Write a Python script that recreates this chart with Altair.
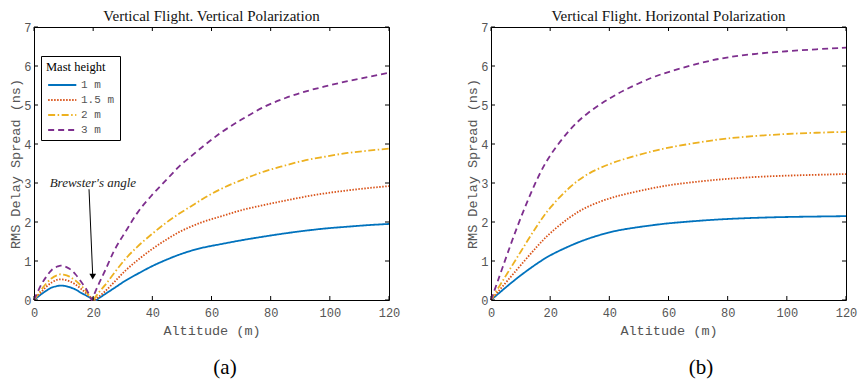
import altair as alt
import pandas as pd

SERIES = ["1 m", "1.5 m", "2 m", "3 m"]
COLORS = ["#0072BD", "#D95319", "#EDB120", "#7E2F8E"]
DASHES = [[1, 0], [1.5, 1.5], [7, 2.5, 1.5, 2.5], [6, 4]]

# (a) Vertical polarization
ALT_V = [0, 1, 2.5, 4, 6, 8, 9, 10, 12, 14, 16, 17.5, 19, 19.5, 20, 20.5, 21, 22,
         24, 27, 31, 35, 40, 45, 49, 53, 57, 63, 70, 78, 85, 91, 98, 106, 113, 120]
V_1M = [0, 0.06, 0.15, 0.23, 0.32, 0.36, 0.37, 0.365, 0.33, 0.27, 0.18, 0.12, 0.06, 0.045,
        0.03, 0.015, 0, 0.05, 0.15, 0.30, 0.50, 0.67, 0.87, 1.04, 1.16, 1.26, 1.34, 1.43,
        1.53, 1.63, 1.71, 1.77, 1.83, 1.88, 1.92, 1.95]
V_15M = [0, 0.09, 0.21, 0.33, 0.45, 0.52, 0.53, 0.525, 0.48, 0.40, 0.28, 0.18, 0.08, 0.055,
         0.03, 0, 0.03, 0.09, 0.22, 0.45, 0.76, 1.02, 1.31, 1.56, 1.74, 1.88, 2.00, 2.14,
         2.30, 2.44, 2.55, 2.64, 2.73, 2.81, 2.87, 2.92]
V_2M = [0, 0.11, 0.27, 0.41, 0.56, 0.64, 0.66, 0.65, 0.60, 0.50, 0.36, 0.24, 0.07, 0.035,
        0, 0.05, 0.10, 0.20, 0.38, 0.68, 1.06, 1.37, 1.70, 2.00, 2.21, 2.40, 2.59, 2.84,
        3.07, 3.30, 3.45, 3.57, 3.67, 3.77, 3.83, 3.88]
V_3M = [0, 0.17, 0.40, 0.58, 0.77, 0.86, 0.88, 0.87, 0.80, 0.66, 0.46, 0.30, 0.08, 0,
        0.08, 0.17, 0.26, 0.43, 0.75, 1.25, 1.76, 2.24, 2.70, 3.10, 3.42, 3.68, 3.93, 4.28,
        4.62, 4.96, 5.18, 5.33, 5.47, 5.61, 5.72, 5.83]

# (b) Horizontal polarization
ALT_H = [0, 2, 5.4, 9.9, 15.6, 19.9, 26.9, 32.5, 39.9, 46, 54.7, 60, 71.5, 80, 90, 100, 110, 120]
H_1M = [0, 0.13, 0.35, 0.63, 0.94, 1.15, 1.40, 1.57, 1.74, 1.83, 1.92, 1.97, 2.04, 2.08,
        2.11, 2.13, 2.14, 2.15]
H_15M = [0, 0.18, 0.48, 0.88, 1.38, 1.72, 2.15, 2.40, 2.61, 2.73, 2.87, 2.95, 3.05, 3.11,
         3.16, 3.19, 3.21, 3.23]
H_2M = [0, 0.25, 0.67, 1.22, 1.92, 2.38, 2.93, 3.24, 3.49, 3.64, 3.82, 3.91, 4.06, 4.15,
        4.21, 4.26, 4.29, 4.31]
H_3M = [0, 0.42, 1.16, 2.10, 3.13, 3.73, 4.41, 4.80, 5.17, 5.42, 5.72, 5.85, 6.10, 6.23,
        6.32, 6.38, 6.43, 6.47]

X_TICKS = [0, 20, 40, 60, 80, 100, 120]
Y_TICKS = [0, 1, 2, 3, 4, 5, 6, 7]

BREWSTER_TEXT = ["Brewster's angle"]
BREWSTER_TEXT_X = [19.9]
BREWSTER_TEXT_Y = [2.99]
ARROW_X = [18.6]
ARROW_Y = [2.84]
ARROW_X2 = [19.85]
ARROW_Y2 = [0.62]
ARROW_HEAD_X = [19.85]
ARROW_HEAD_Y = [0.6]

W, H = 355, 273
MONO = "Liberation Mono"
SERIF = "Liberation Serif"
GREY = "#555555"
TICK_LEN = 4

XS = alt.Scale(domain=[0, 120], nice=False, zero=False)
YS = alt.Scale(domain=[0, 7], nice=False)
X_AXIS = alt.Axis(values=X_TICKS, ticks=False, domain=False, labelPadding=7, labelFlush=False,
                  title="Altitude (m)", titlePadding=5)
Y_AXIS = alt.Axis(values=Y_TICKS, ticks=False, domain=False, labelPadding=3, labelFlush=False,
                  title="RMS Delay Spread (ns)", titlePadding=1)


def X(field):
    return alt.X(field, scale=XS, axis=X_AXIS, title="Altitude (m)")


def Y(field):
    return alt.Y(field, scale=YS, axis=Y_AXIS, title="RMS Delay Spread (ns)")


def to_long(alts, cols):
    rows = []
    for name, vals in zip(SERIES, cols):
        for a, v in zip(alts, vals):
            rows.append({"alt": a, "v": v, "series": name})
    return pd.DataFrame(rows)


def panel(df, title, lx, ly, tag, tag_x, interp, annotate=False):
    legend = alt.Legend(
        title="Mast height", orient="none", legendX=lx, legendY=ly,
        strokeColor="black", fillColor="white", padding=5,
        titleFont=SERIF, titleFontSize=12.5, titleFontWeight="normal", titleColor="black",
        titlePadding=6, labelFont=MONO, labelFontSize=11, labelColor=GREY,
        symbolType="M-1,0L7.4,0", symbolSize=45, symbolStrokeWidth=1.8, rowPadding=3,
        labelOffset=24,
    )
    lines = alt.Chart(df).mark_line(strokeWidth=1.8, interpolate=interp).encode(
        x=X("alt:Q"), y=Y("v:Q"),
        color=alt.Color("series:N", scale=alt.Scale(domain=SERIES, range=COLORS), legend=legend),
        strokeDash=alt.StrokeDash("series:N", scale=alt.Scale(domain=SERIES, range=DASHES),
                                  legend=legend),
    )
    xt = pd.DataFrame({"t": X_TICKS})
    yt = pd.DataFrame({"t": Y_TICKS})
    rule_kw = dict(color="black", strokeWidth=1)
    t_bottom = alt.Chart(xt).mark_rule(**rule_kw).encode(
        x=X("t:Q"), y=alt.value(H), y2=alt.value(H - TICK_LEN))
    t_top = alt.Chart(xt).mark_rule(**rule_kw).encode(
        x=X("t:Q"), y=alt.value(0), y2=alt.value(TICK_LEN))
    t_left = alt.Chart(yt).mark_rule(**rule_kw).encode(
        y=Y("t:Q"), x=alt.value(0), x2=alt.value(TICK_LEN))
    t_right = alt.Chart(yt).mark_rule(**rule_kw).encode(
        y=Y("t:Q"), x=alt.value(W), x2=alt.value(W - TICK_LEN))
    tag_layer = alt.Chart(pd.DataFrame({"t": [tag]})).mark_text(
        font=SERIF, fontSize=21, color="black").encode(
        text="t:N", x=alt.value(tag_x), y=alt.value(H + 68))
    layers = [lines, t_bottom, t_top, t_left, t_right, tag_layer]
    if annotate:
        bt = alt.Chart(pd.DataFrame({"t": BREWSTER_TEXT, "x": BREWSTER_TEXT_X,
                                     "y": BREWSTER_TEXT_Y})).mark_text(
            font=SERIF, fontStyle="italic", fontSize=13, color="#222").encode(
            text="t:N", x=X("x:Q"), y=Y("y:Q"))
        ar = alt.Chart(pd.DataFrame({"x": ARROW_X, "y": ARROW_Y, "x2": ARROW_X2,
                                     "y2": ARROW_Y2})).mark_rule(color="black", strokeWidth=1).encode(
            x=X("x:Q"), y=Y("y:Q"), x2="x2:Q", y2="y2:Q")
        ah = alt.Chart(pd.DataFrame({"x": ARROW_HEAD_X, "y": ARROW_HEAD_Y})).mark_point(
            shape="triangle-down", filled=True, color="black", size=45, opacity=1).encode(
            x=X("x:Q"), y=Y("y:Q"))
        layers += [bt, ar, ah]
    return alt.layer(*layers).properties(
        width=W, height=H,
        title=alt.TitleParams(title, font=SERIF, fontSize=15, fontWeight="normal",
                              color="#111", offset=-3, anchor="middle"))


left = panel(to_long(ALT_V, [V_1M, V_15M, V_2M, V_3M]),
             "Vertical Flight. Vertical Polarization", 7, 29, "(a)", 191, "monotone",
             annotate=True)
right = panel(to_long(ALT_H, [H_1M, H_15M, H_2M, H_3M]),
              "Vertical Flight. Horizontal Polarization", 7, 24, "(b)", 210, "basis")

chart = alt.hconcat(left, right, spacing=64).properties(
    padding={"left": 0, "top": 0, "right": 0, "bottom": 0}
).configure_view(stroke="black", strokeWidth=1).configure_axis(
    grid=False, labelFont=MONO, labelColor=GREY, labelFontSize=12,
    titleFont=MONO, titleColor=GREY, titleFontSize=13.5, titleFontWeight="normal",
)

chart.save("out.html", embed_options={"renderer": "svg", "actions": False})
